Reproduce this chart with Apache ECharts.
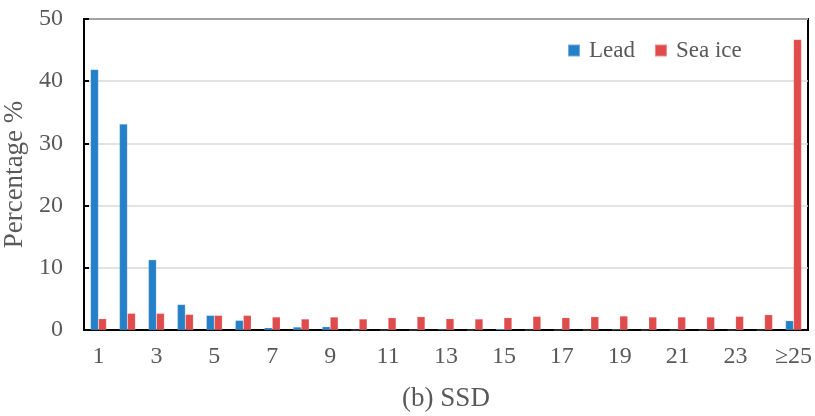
<!DOCTYPE html>
<html>
<head>
<meta charset="utf-8">
<script src="https://cdn.jsdelivr.net/npm/echarts@6/dist/echarts.min.js"></script>
<style>html,body{margin:0;padding:0;background:#fff;}#c{width:815px;height:416px;}</style>
</head>
<body>
<div id="c"></div>
<script>
var categories = ['1','2','3','4','5','6','7','8','9','10','11','12','13','14','15','16','17','18','19','20','21','22','23','24','\u226525'];
var leadValues = [41.9, 33.1, 11.3, 4.1, 2.35, 1.55, 0.37, 0.48, 0.53, 0, 0, 0, 0.1, 0, 0.2, 0, 0, 0, 0.1, 0, 0, 0, 0, 0, 1.5];
var seaIceValues = [1.82, 2.68, 2.68, 2.51, 2.35, 2.35, 2.09, 1.77, 2.09, 1.77, 1.98, 2.14, 1.82, 1.77, 1.98, 2.19, 1.98, 2.14, 2.25, 2.09, 2.09, 2.09, 2.19, 2.46, 46.7];
var yTicks = [0, 10, 20, 30, 40, 50];

var font = 'Liberation Serif';
var textColor = '#595959';
var chart = echarts.init(document.getElementById('c'));
chart.setOption({
  animation: false,
  backgroundColor: '#fff',
  grid: { left: 84, right: 7, top: 19, bottom: 86, show: true, borderColor: '#000', borderWidth: 2,
          containLabel: false, outerBoundsMode: 'none' },
  legend: {
    data: ['Lead', 'Sea ice'],
    left: 562, top: 34,
    itemWidth: 12, itemHeight: 12, itemGap: 19,
    icon: 'rect',
    textStyle: { fontFamily: font, fontSize: 23, color: textColor, padding: [0,0,0,4] }
  },
  xAxis: {
    type: 'category',
    data: categories,
    name: '(b) SSD',
    nameLocation: 'middle',
    nameGap: 55,
    nameTextStyle: { fontFamily: font, fontSize: 27, color: textColor },
    axisLine: { lineStyle: { color: '#000', width: 2 } },
    axisTick: { show: false },
    axisLabel: { interval: 1, margin: 15, fontFamily: font, fontSize: 24, color: textColor },
    splitLine: { show: false }
  },
  yAxis: {
    type: 'value',
    min: yTicks[0], max: yTicks[yTicks.length - 1], interval: 10,
    name: 'Percentage %',
    nameLocation: 'middle',
    nameGap: 53,
    nameTextStyle: { fontFamily: font, fontSize: 27, color: textColor },
    axisLine: { show: true, lineStyle: { color: '#000', width: 2 } },
    axisTick: { show: true, inside: true, length: 5, lineStyle: { color: '#000', width: 2 } },
    axisLabel: { margin: 21, fontFamily: font, fontSize: 24, color: textColor },
    splitLine: { lineStyle: { color: '#d9d9d9', width: 1.5 } }
  },
  series: [
    { name: 'Lead', type: 'bar', data: leadValues, barWidth: 8, barGap: '0%',
      itemStyle: { color: '#2680c8', borderColor: 'rgba(255,255,255,0.35)', borderWidth: 0.5 } },
    { name: 'Sea ice', type: 'bar', data: seaIceValues, barWidth: 8, barGap: '0%',
      itemStyle: { color: '#e04c4c', borderColor: 'rgba(255,255,255,0.35)', borderWidth: 0.5 } }
  ]
});
</script>
</body>
</html>
